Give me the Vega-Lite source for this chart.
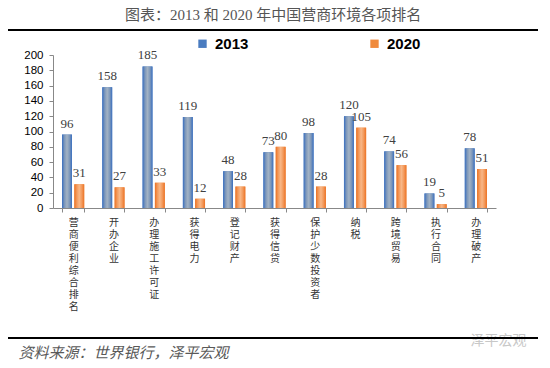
{
  "$schema": "https://vega.github.io/schema/vega-lite/v6.json",
  "width": 530,
  "height": 153,
  "autosize": {"type": "none"},
  "padding": {"left": 8, "top": 55, "right": 12, "bottom": 160},
  "background": "white",
  "title": {
    "text": "图表：2013 和 2020 年中国营商环境各项排名",
    "anchor": "middle",
    "font": "Liberation Serif, Noto Sans CJK SC",
    "fontSize": 15,
    "fontWeight": "normal",
    "color": "#555555",
    "offset": 6
  },
  "config": {"view": {"stroke": null}},
  "resolve": {"axis": {"y": "independent"}},
  "data": {
    "values": [
      {"item": "营商便利综合排名", "series": "2013", "value": 96},
      {"item": "营商便利综合排名", "series": "2020", "value": 31},
      {"item": "开办企业", "series": "2013", "value": 158},
      {"item": "开办企业", "series": "2020", "value": 27},
      {"item": "办理施工许可证", "series": "2013", "value": 185},
      {"item": "办理施工许可证", "series": "2020", "value": 33},
      {"item": "获得电力", "series": "2013", "value": 119},
      {"item": "获得电力", "series": "2020", "value": 12},
      {"item": "登记财产", "series": "2013", "value": 48},
      {"item": "登记财产", "series": "2020", "value": 28},
      {"item": "获得信贷", "series": "2013", "value": 73},
      {"item": "获得信贷", "series": "2020", "value": 80},
      {"item": "保护少数投资者", "series": "2013", "value": 98},
      {"item": "保护少数投资者", "series": "2020", "value": 28},
      {"item": "纳税", "series": "2013", "value": 120},
      {"item": "纳税", "series": "2020", "value": 105},
      {"item": "跨境贸易", "series": "2013", "value": 74},
      {"item": "跨境贸易", "series": "2020", "value": 56},
      {"item": "执行合同", "series": "2013", "value": 19},
      {"item": "执行合同", "series": "2020", "value": 5},
      {"item": "办理破产", "series": "2013", "value": 78},
      {"item": "办理破产", "series": "2020", "value": 51}
    ]
  },
  "layer": [
    {
      "encoding": {
        "x": {
          "field": "item",
          "type": "nominal",
          "sort": null,
          "scale": {"range": [45, 488], "paddingInner": 0.45, "paddingOuter": 0.225},
          "axis": {
            "title": "资料来源：世界银行，泽平宏观",
            "titleX": 10,
            "titleY": 144,
            "titleAlign": "left",
            "titleAnchor": "start",
            "titleBaseline": "middle",
            "titleFont": "Noto Sans CJK SC",
            "titleFontSize": 15,
            "titleFontStyle": "italic",
            "titleFontWeight": "normal",
            "titleColor": "#595959",
            "labelExpr": "split(datum.label, '')",
            "labelAngle": 0,
            "labelAlign": "center",
            "labelBaseline": "top",
            "labelFont": "Noto Sans CJK SC",
            "labelFontSize": 10,
            "labelLineHeight": 12,
            "labelColor": "#333333",
            "labelPadding": 5,
            "labelOverlap": false,
            "labelLimit": 0,
            "tickBand": "extent",
            "tickSize": 4,
            "tickColor": "#888888",
            "domainColor": "#888888"
          }
        },
        "xOffset": {"field": "series", "type": "nominal", "scale": {"paddingInner": 0.2, "paddingOuter": 0}},
        "y": {
          "field": "value",
          "type": "quantitative",
          "scale": {"domain": [0, 200], "nice": false},
          "axis": {
            "values": [0, 20, 40, 60, 80, 100, 120, 140, 160, 180, 200],
            "offset": -45,
            "grid": false,
            "labelOverlap": false,
            "labelFont": "Liberation Sans",
            "labelFontSize": 11.5,
            "labelColor": "#000000",
            "labelPadding": 6,
            "tickSize": 4,
            "tickColor": "#888888",
            "domainColor": "#888888",
            "title": "泽平宏观",
            "titleAngle": 0,
            "titleX": 417,
            "titleY": 285,
            "titleAlign": "left",
            "titleBaseline": "middle",
            "titleFont": "Noto Sans CJK SC",
            "titleFontSize": 14,
            "titleFontWeight": "normal",
            "titleColor": "#c8c8c8"
          }
        }
      },
      "layer": [
        {
          "mark": {"type": "bar"},
          "encoding": {
            "color": {
              "field": "series",
              "type": "nominal",
              "scale": {"domain": ["2013", "2020"], "range": ["#4a7cc0", "#f08a3c"]},
              "legend": {
                "orient": "none",
                "legendX": 187,
                "legendY": -19,
                "direction": "horizontal",
                "title": null,
                "symbolType": "square",
                "symbolSize": 70,
                "symbolStrokeWidth": 0,
                "labelFont": "Liberation Sans",
                "labelFontSize": 15,
                "labelFontWeight": "bold",
                "labelColor": "#000000",
                "labelOffset": 5,
                "columnPadding": 118,
                "padding": 0
              }
            }
          }
        },
        {
          "transform": [{"filter": "datum.series === '2013'"}],
          "mark": {
            "type": "bar",
            "fill": {
              "gradient": "linear", "x1": 0, "y1": 0, "x2": 1, "y2": 0,
              "stops": [
                {"offset": 0, "color": "#3a6fbf"},
                {"offset": 0.25, "color": "#7e98ba"},
                {"offset": 0.5, "color": "#a2b2c4"},
                {"offset": 0.75, "color": "#7e98ba"},
                {"offset": 1, "color": "#3a6fbf"}
              ]
            }
          }
        },
        {
          "transform": [{"filter": "datum.series === '2020'"}],
          "mark": {
            "type": "bar",
            "fill": {
              "gradient": "linear", "x1": 0, "y1": 0, "x2": 1, "y2": 0,
              "stops": [
                {"offset": 0, "color": "#ec7224"},
                {"offset": 0.25, "color": "#f39a5c"},
                {"offset": 0.5, "color": "#f8b787"},
                {"offset": 0.75, "color": "#f39a5c"},
                {"offset": 1, "color": "#ec7224"}
              ]
            }
          }
        },
        {
          "mark": {"type": "text", "font": "Liberation Serif", "fontSize": 13, "color": "#404040", "baseline": "alphabetic", "dy": -7},
          "encoding": {"text": {"field": "value", "type": "quantitative"}}
        }
      ]
    },
    {
      "transform": [{"aggregate": [{"op": "count", "as": "n"}]}],
      "mark": {"type": "rule", "color": "#000000", "strokeWidth": 2},
      "encoding": {"y": {"datum": 232.68, "type": "quantitative", "axis": null}}
    },
    {
      "transform": [{"aggregate": [{"op": "count", "as": "n"}]}],
      "mark": {"type": "rule", "color": "#000000", "strokeWidth": 2},
      "encoding": {"y": {"datum": -169.93, "type": "quantitative", "axis": null}}
    }
  ]
}
